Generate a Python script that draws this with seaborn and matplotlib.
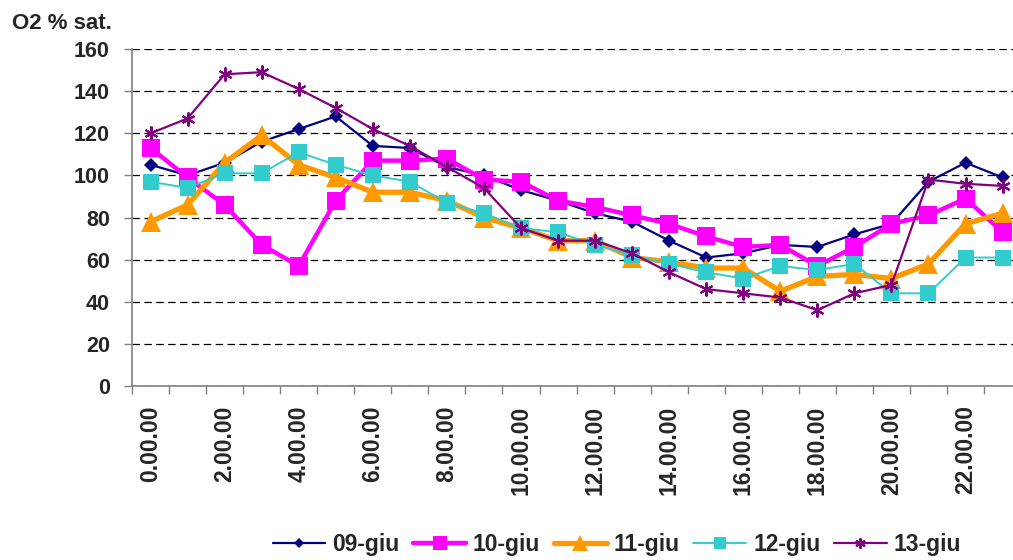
import matplotlib
matplotlib.use("Agg")
import matplotlib.pyplot as plt
import seaborn as sns
import pandas as pd

# hourly categories
hours = [f"{h}.00.00" for h in range(24)]

giu09 = [105, 100, 106, 116, 122, 128, 114, 113, 104, 100, 93, 88,
         82, 78, 69, 61, 63, 67, 66, 72, 77, 97, 106, 99]
giu10 = [113, 99, 86, 67, 57, 88, 107, 107, 108, 98, 97, 88,
         85, 81, 77, 71, 66, 67, 57, 66, 77, 81, 89, 73]
giu11 = [78, 86, 106, 119, 105, 99, 92, 92, 88, 80, 75, 69,
         69, 61, 59, 56, 56, 45, 52, 53, 51, 58, 77, 82]
giu12 = [97, 94, 101, 101, 111, 105, 100, 97, 87, 82, 75, 73,
         67, 62, 58, 54, 51, 57, 55, 58, 44, 44, 61, 61]
giu13 = [120, 127, 148, 149, 141, 132, 122, 114, 104, 94, 75, 69,
         69, 63, 54, 46, 44, 42, 36, 44, 48, 98, 96, 95]

series_names = ["09-giu", "10-giu", "11-giu", "12-giu", "13-giu"]
series_vals = [giu09, giu10, giu11, giu12, giu13]

# style per series (Excel default look)
styles = {
    "09-giu": dict(color="#000080", marker="D", ms=7, lw=1.6, mew=0),
    "10-giu": dict(color="#FF00FF", marker="s", ms=13, lw=3.2, mew=0),
    "11-giu": dict(color="#FF9900", marker="^", ms=15, lw=3.8, mew=0),
    "12-giu": dict(color="#33CCCC", marker="s", ms=11.5, lw=1.4, mew=0),
    "13-giu": dict(color="#800080", marker=(6, 2, 0), ms=10, lw=1.6, mew=1.5),
}

rows = []
for name, vals in zip(series_names, series_vals):
    for i, v in enumerate(vals):
        rows.append({"idx": i, "value": v, "series": name})
df = pd.DataFrame(rows)

sns.set_theme(style="white")
plt.rcParams['font.family'] = ['Liberation Sans', 'DejaVu Sans']
plt.rcParams['font.weight'] = 'bold'

fig = plt.figure(figsize=(10.13, 5.6), dpi=100)
ax = fig.add_axes([0.1303, 0.3107, 0.8777, 0.6018])

for name in series_names:
    st = styles[name]
    sub = df[df["series"] == name]
    sns.lineplot(data=sub, x="idx", y="value", ax=ax, color=st["color"],
                 linewidth=st["lw"], marker=st["marker"], markersize=st["ms"],
                 markeredgewidth=st["mew"], markeredgecolor=st["color"],
                 label=name, estimator=None)

ax.set_xlim(-0.5, 23.5)
ax.set_ylim(0, 160)
ax.set_yticks(range(0, 161, 20))
ax.yaxis.grid(True, color="black", linestyle=(0, (6, 3.5)), linewidth=0.9)
ax.xaxis.grid(False)
ax.set_axisbelow(True)

ax.set_xticks(range(0, 24, 2))
ax.set_xticklabels(hours[::2], rotation=90, fontsize=16.5, fontweight="bold")
ax.set_xticks([i - 0.5 for i in range(25)], minor=True)
ax.tick_params(axis="x", which="major", length=0, pad=14)
ax.tick_params(axis="x", which="minor", length=6, width=1, color="#808080", direction="out", bottom=True)
ax.tick_params(axis="y", length=6, width=1, color="#808080", direction="out", left=True, labelsize=15.5, pad=10)
for lab in ax.get_yticklabels():
    lab.set_fontweight("bold")

ax.set_xlabel("")
ax.set_ylabel("")
for s in ["top", "right"]:
    ax.spines[s].set_visible(False)
for s in ["left", "bottom"]:
    ax.spines[s].set_color("#808080")
    ax.spines[s].set_linewidth(1.2)

fig.text(0.012, 0.958, "O2 % sat.", fontsize=16, fontweight="bold", ha="left", va="center")

handles, labels = ax.get_legend_handles_labels()
ax.legend(handles, labels, ncol=5, loc="center", bbox_to_anchor=(0.609, 0.027),
          bbox_transform=fig.transFigure, frameon=False, fontsize=16.5,
          handlelength=2.3, columnspacing=0.6, handletextpad=0.3, markerscale=0.75)

fig.savefig("out.png", dpi=100)
